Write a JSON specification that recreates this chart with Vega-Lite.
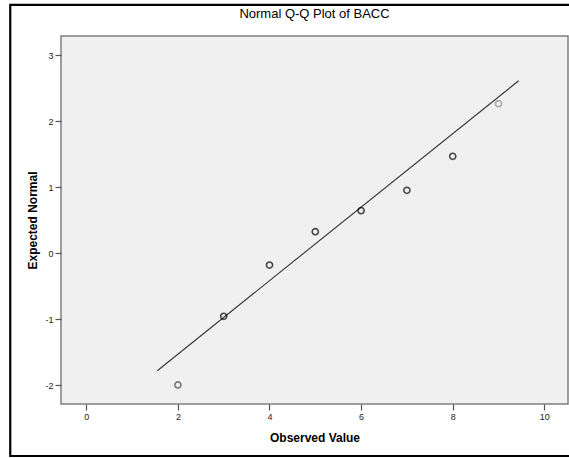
{
  "$schema": "https://vega.github.io/schema/vega-lite/v6.json",
  "width": 507,
  "height": 368,
  "autosize": "none",
  "padding": {"left": 61, "top": 36, "right": 1, "bottom": 54},
  "background": "white",
  "title": {
    "text": "Normal Q-Q Plot of BACC",
    "font": "Liberation Sans",
    "fontSize": 13,
    "fontWeight": "normal",
    "color": "#000000",
    "anchor": "middle",
    "frame": "group",
    "offset": -17
  },
  "config": {
    "font": "Liberation Sans",
    "view": {"fill": "#F0F0F0", "stroke": "#7f7f7f", "strokeWidth": 1.5},
    "axis": {
      "grid": false,
      "domain": false,
      "tickColor": "#555555",
      "tickSize": 6,
      "tickWidth": 1.2,
      "labelFont": "Liberation Sans",
      "labelFontSize": 9,
      "labelColor": "#222222",
      "labelPadding": 2,
      "labelExpr": "'' + datum.value",
      "titleFont": "Liberation Sans",
      "titleFontSize": 12,
      "titleFontWeight": "bold",
      "titleColor": "#000000"
    }
  },
  "datasets": {
    "qq": [
      {"observed": 2, "expected": -1.995, "cases": 2},
      {"observed": 3, "expected": -0.955, "cases": 13},
      {"observed": 4, "expected": -0.179, "cases": 14},
      {"observed": 5, "expected": 0.326, "cases": 7},
      {"observed": 6, "expected": 0.644, "cases": 5},
      {"observed": 7, "expected": 0.952, "cases": 5},
      {"observed": 8, "expected": 1.467, "cases": 5},
      {"observed": 9, "expected": 2.263, "cases": 1}
    ],
    "reference": [
      {"observed": 1.55, "expected": -1.779},
      {"observed": 9.44, "expected": 2.611}
    ]
  },
  "layer": [
    {
      "data": {"values": [{}]},
      "mark": {"type": "rect", "filled": false, "stroke": "#000000", "strokeWidth": 2.2, "clip": false},
      "encoding": {
        "x": {"datum": -1.66, "type": "quantitative", "scale": {"domain": [-0.552, 10.517], "nice": false, "zero": false}},
        "x2": {"datum": 11.6},
        "y": {"datum": 3.76, "type": "quantitative", "scale": {"domain": [-2.283, 3.288], "nice": false, "zero": false}},
        "y2": {"datum": -3.07}
      }
    },
    {
      "data": {"name": "reference"},
      "mark": {"type": "line", "color": "#333333", "strokeWidth": 1.1},
      "encoding": {
        "x": {"field": "observed", "type": "quantitative"},
        "y": {"field": "expected", "type": "quantitative"}
      }
    },
    {
      "data": {"name": "qq"},
      "mark": {"type": "point", "shape": "circle", "filled": false, "size": 38, "strokeWidth": 1.6},
      "encoding": {
        "x": {
          "field": "observed",
          "type": "quantitative",
          "title": "Observed Value",
          "axis": {"values": [0, 2, 4, 6, 8, 10], "titlePadding": 11}
        },
        "y": {
          "field": "expected",
          "type": "quantitative",
          "title": "Expected Normal",
          "axis": {"values": [-2, -1, 0, 1, 2, 3], "titlePadding": 5}
        },
        "color": {
          "field": "cases",
          "type": "quantitative",
          "scale": {"domain": [1, 3], "range": ["#8a8a8a", "#000000"], "clamp": true},
          "legend": null
        }
      }
    }
  ]
}
